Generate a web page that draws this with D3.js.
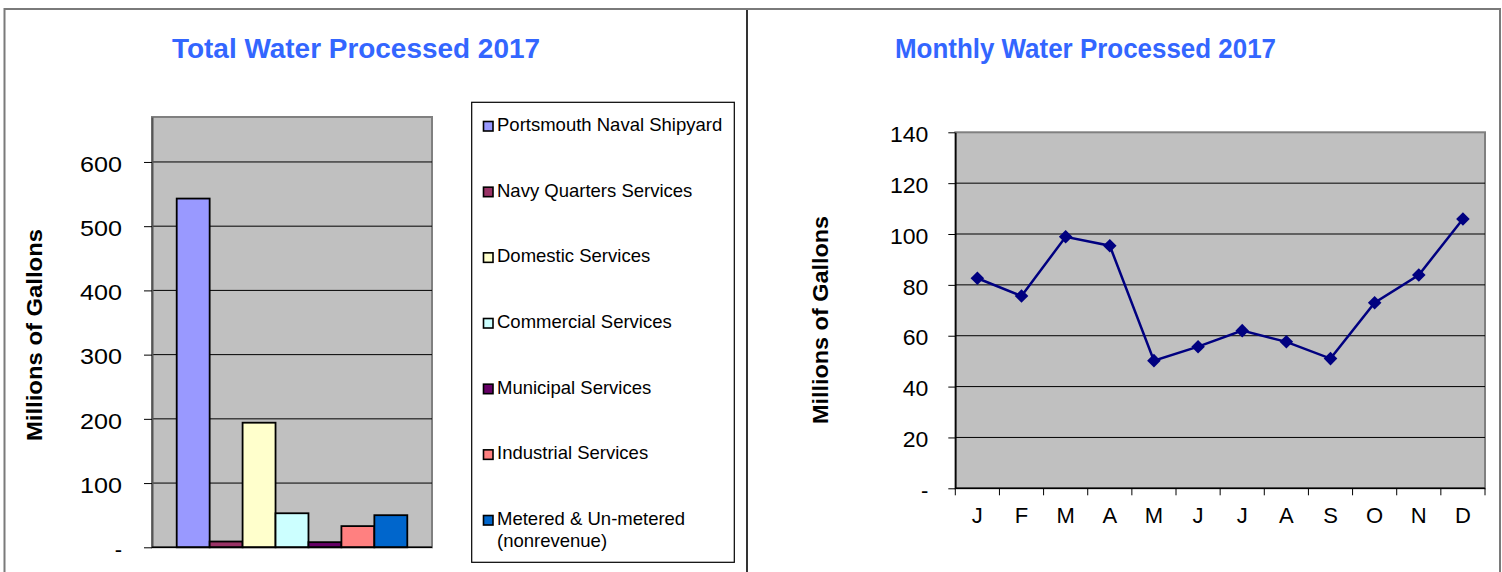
<!DOCTYPE html>
<html><head><meta charset="utf-8">
<script src="https://cdn.jsdelivr.net/npm/d3@7"></script>
<style>body{margin:0;background:#fff} svg{display:block} text{font-family:Arial,"Liberation Sans",sans-serif}</style>
</head><body><svg id="c" width="1502" height="572"></svg>
<script>
// ---- data ----
const seriesNames = ["Portsmouth Naval Shipyard","Navy Quarters Services","Domestic Services","Commercial Services","Municipal Services","Industrial Services","Metered & Un-metered (nonrevenue)"];
const seriesValues = [543, 9, 194, 53, 8, 33, 50];
const seriesColors = ["#9999FF","#993366","#FFFFCC","#CCFFFF","#660066","#FF8080","#0066CC"];
const barTicks = [0, 100, 200, 300, 400, 500, 600];
const months = ["J","F","M","A","M","J","J","A","S","O","N","D"];
const monthlyValues = [82.6, 75.6, 98.9, 95.4, 50.2, 55.7, 62.0, 57.6, 51.0, 73.0, 83.9, 105.9];
const lineTicks = [0, 20, 40, 60, 80, 100, 120, 140];

const svg = d3.select("#c");
const titleColor = "#3366FF";
const fmt = v => v === 0 ? "-" : String(v);

// ---- frame ----
svg.append("line").attr("x1",4).attr("x2",1501).attr("y1",9).attr("y2",9).attr("stroke","#7a7a7a").attr("stroke-width",2);
svg.append("line").attr("x1",4.5).attr("x2",4.5).attr("y1",8).attr("y2",572).attr("stroke","#7a7a7a").attr("stroke-width",2);
svg.append("line").attr("x1",1500).attr("x2",1500).attr("y1",8).attr("y2",572).attr("stroke","#7a7a7a").attr("stroke-width",2);
svg.append("line").attr("x1",747).attr("x2",747).attr("y1",10).attr("y2",572).attr("stroke","#000").attr("stroke-width",1.6);

// ================= LEFT: bar chart =================
const L = {x0:152, x1:432, y0:117, y1:547.3};
const yB = d3.scaleLinear().domain([0, 670]).range([L.y1, L.y0]);
const xB = d3.scaleBand().domain(seriesNames).range([L.x0, L.x1]).paddingInner(0).paddingOuter(0.75);

svg.append("text").attr("x",356).attr("y",58).attr("text-anchor","middle")
  .attr("font-size",27).attr("font-weight","bold").attr("fill",titleColor)
  .attr("textLength",368).attr("lengthAdjust","spacingAndGlyphs").text("Total Water Processed 2017");

svg.append("rect").attr("x",L.x0).attr("y",L.y0).attr("width",L.x1-L.x0).attr("height",L.y1-L.y0)
  .attr("fill","#C0C0C0").attr("stroke","#808080").attr("stroke-width",2);

const gB = svg.append("g");
gB.selectAll("line.grid").data(barTicks.filter(d=>d>0)).join("line")
  .attr("x1",L.x0).attr("x2",L.x1).attr("y1",d=>yB(d)).attr("y2",d=>yB(d))
  .attr("stroke","#000").attr("stroke-width",1);

const axB = svg.append("g").attr("transform",`translate(${L.x0},0)`)
  .call(d3.axisLeft(yB).tickValues(barTicks).tickFormat(fmt).tickSizeInner(8).tickSizeOuter(0).tickPadding(22));
axB.select(".domain").attr("stroke","#555").attr("stroke-width",2);
axB.selectAll(".tick line").attr("stroke","#000");
axB.selectAll(".tick text").attr("font-size",22).attr("fill","#000").attr("font-family","Arial, 'Liberation Sans', sans-serif").attr("dy","0.42em")
  .each(function(d){ if (d>0) d3.select(this).attr("textLength",14*String(d).length).attr("lengthAdjust","spacingAndGlyphs"); });

gB.selectAll("rect.bar").data(seriesNames).join("rect")
  .attr("x",d=>xB(d)).attr("width",xB.bandwidth())
  .attr("y",(d,i)=>yB(seriesValues[i])).attr("height",(d,i)=>yB(0)-yB(seriesValues[i]))
  .attr("fill",(d,i)=>seriesColors[i]).attr("stroke","#000").attr("stroke-width",1.8);

svg.append("line").attr("x1",L.x0).attr("x2",L.x1).attr("y1",L.y1).attr("y2",L.y1).attr("stroke","#000").attr("stroke-width",1.5);

svg.append("text").attr("transform",`translate(42,335) rotate(-90)`).attr("text-anchor","middle")
  .attr("font-size",22).attr("font-weight","bold").attr("fill","#000")
  .attr("textLength",212).attr("lengthAdjust","spacingAndGlyphs").text("Millions of Gallons");

// legend
svg.append("rect").attr("x",471.7).attr("y",102.3).attr("width",262.6).attr("height",460)
  .attr("fill","#fff").attr("stroke","#000").attr("stroke-width",1.2);
const lg = svg.append("g");
seriesNames.forEach((name,i)=>{
  const by = 131 + i*65.67;
  lg.append("rect").attr("x",483.5).attr("y",by-9.5).attr("width",9.5).attr("height",9.5)
    .attr("fill",seriesColors[i]).attr("stroke","#000").attr("stroke-width",1.6);
  const t = lg.append("text").attr("x",497).attr("y",by).attr("font-size",18.5).attr("fill","#000");
  if (name.includes("(")) {
    const parts = name.split(" (");
    t.append("tspan").attr("x",497).text(parts[0]);
    t.append("tspan").attr("x",497).attr("dy",21.7).text("(" + parts[1]);
  } else t.text(name);
});

// ================= RIGHT: line chart =================
const R = {x0:955.3, x1:1485, y0:132.3, y1:488.3};
const yL = d3.scaleLinear().domain([0, 140]).range([R.y1, R.y0]);
const xL = d3.scaleBand().domain(d3.range(months.length)).range([R.x0, R.x1]);

svg.append("text").attr("x",1085.5).attr("y",57.5).attr("text-anchor","middle")
  .attr("font-size",27).attr("font-weight","bold").attr("fill",titleColor)
  .attr("textLength",381).attr("lengthAdjust","spacingAndGlyphs").text("Monthly Water Processed 2017");

svg.append("rect").attr("x",R.x0).attr("y",R.y0).attr("width",R.x1-R.x0).attr("height",R.y1-R.y0)
  .attr("fill","#C0C0C0").attr("stroke","#808080").attr("stroke-width",2);

const gL = svg.append("g");
gL.selectAll("line.grid").data(lineTicks.filter(d=>d>0 && d<140)).join("line")
  .attr("x1",R.x0).attr("x2",R.x1).attr("y1",d=>yL(d)).attr("y2",d=>yL(d))
  .attr("stroke","#000").attr("stroke-width",1);

const axLy = svg.append("g").attr("transform",`translate(${R.x0},0)`)
  .call(d3.axisLeft(yL).tickValues(lineTicks).tickFormat(fmt).tickSizeInner(7).tickSizeOuter(0).tickPadding(20));
axLy.select(".domain").attr("stroke","#000").attr("stroke-width",1.5);
axLy.selectAll(".tick line").attr("stroke","#000");
axLy.selectAll(".tick text").attr("font-size",22).attr("fill","#000").attr("font-family","Arial, 'Liberation Sans', sans-serif").attr("dy","0.42em")
  .each(function(d){ if (d>0) d3.select(this).attr("textLength",12.8*String(d).length).attr("lengthAdjust","spacingAndGlyphs"); });

// x axis: ticks at category boundaries
const axLx = svg.append("g").attr("transform",`translate(0,${R.y1})`);
axLx.append("line").attr("x1",R.x0).attr("x2",R.x1).attr("y1",0).attr("y2",0).attr("stroke","#000").attr("stroke-width",1.5);
const bounds = d3.range(months.length+1).map(i => i < months.length ? xL(i) : R.x1);
axLx.selectAll("line.tk").data(bounds).join("line")
  .attr("x1",d=>d).attr("x2",d=>d).attr("y1",0).attr("y2",7).attr("stroke","#000").attr("stroke-width",1);
axLx.selectAll("text").data(d3.range(months.length)).join("text")
  .attr("x",i=>xL(i)+xL.bandwidth()/2).attr("y",35).attr("text-anchor","middle")
  .attr("font-size",22).attr("fill","#000").text(i=>months[i]);

svg.append("text").attr("transform",`translate(828,320) rotate(-90)`).attr("text-anchor","middle")
  .attr("font-size",22).attr("font-weight","bold").attr("fill","#000")
  .attr("textLength",208).attr("lengthAdjust","spacingAndGlyphs").text("Millions of Gallons");

const line = d3.line().x((d,i)=>xL(i)+xL.bandwidth()/2).y(d=>yL(d));
gL.append("path").datum(monthlyValues).attr("d",line).attr("fill","none").attr("stroke","#000080").attr("stroke-width",2.5);
gL.selectAll("path.mk").data(monthlyValues).join("path").attr("class","mk")
  .attr("d",d3.symbol(d3.symbolSquare,92))
  .attr("transform",(d,i)=>`translate(${xL(i)+xL.bandwidth()/2},${yL(d)}) rotate(45)`)
  .attr("fill","#000080");
</script></body></html>
